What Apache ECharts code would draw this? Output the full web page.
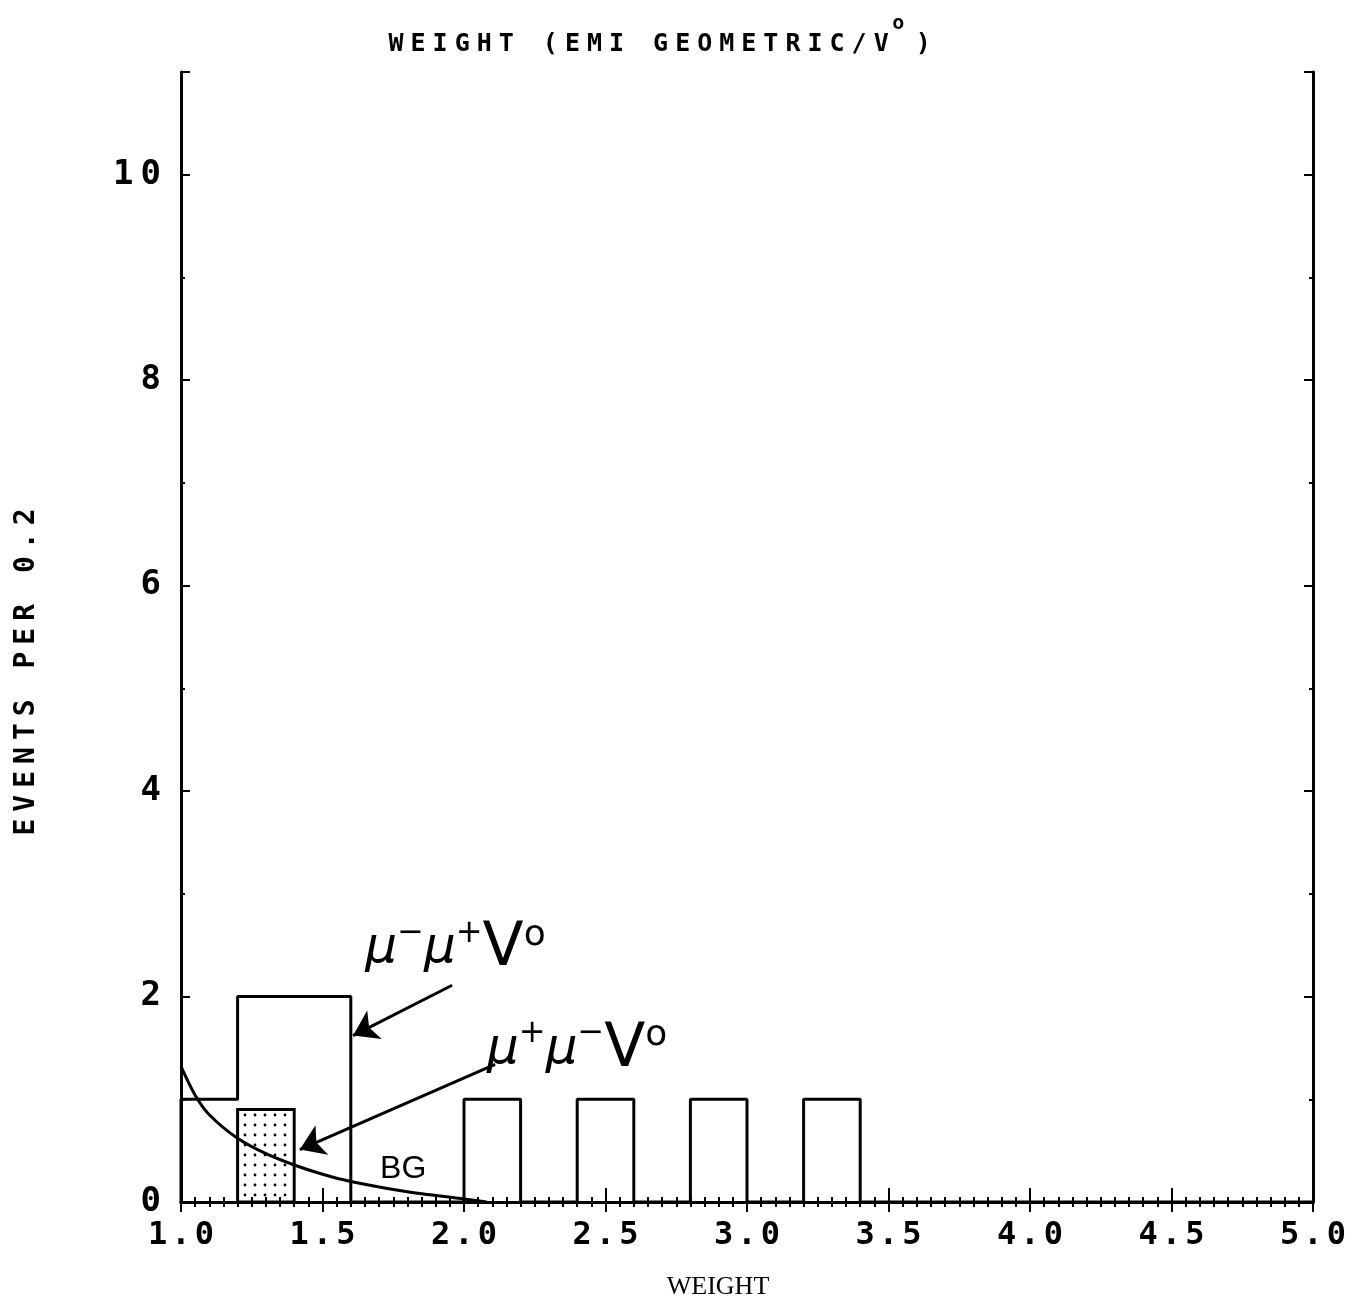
<!DOCTYPE html>
<html>
<head>
<meta charset="utf-8">
<script src="https://cdn.jsdelivr.net/npm/echarts@6/dist/echarts.min.js"></script>
<style>
html, body { margin: 0; padding: 0; background: #fff; }
#chart { width: 1356px; height: 1305px; }
</style>
</head>
<body>
<div id="chart"></div>
<script>
// histogram bins, width 0.2
const binWidth = 0.2;
const binStarts = [1.0, 1.2, 1.4, 1.6, 1.8, 2.0, 2.2, 2.4, 2.6, 2.8, 3.0, 3.2, 3.4, 3.6, 3.8, 4.0, 4.2, 4.4, 4.6, 4.8];
const allCounts = [1, 2, 2, 0, 0, 1, 0, 1, 0, 1, 0, 1, 0, 0, 0, 0, 0, 0, 0, 0];

// dotted part (mu+ mu- V0)
const shadedStarts = [1.2];
const shadedCounts = [0.9];

// background curve
const bgX = [1.0, 1.05, 1.1, 1.2, 1.3, 1.4, 1.5, 1.6, 1.8, 2.0, 2.08];
const bgY = [1.32, 1.04, 0.85, 0.62, 0.47, 0.36, 0.27, 0.2, 0.1, 0.03, 0];

// annotation arrows [from, to] in data units
const arrows = [
    [[1.958, 2.11], [1.608, 1.62]],
    [[2.11, 1.34], [1.42, 0.51]]
];

const titleText = "WEIGHT (EMI GEOMETRIC/V";
const yName = "EVENTS PER 0.2";

const spaced = (s, tag) => s.split("").map(ch => `{${tag}|${ch}}`).join("");

const makeDots = () => {
    const c = document.createElement("canvas");
    c.width = 10;
    c.height = 10;
    const ctx = c.getContext("2d");
    ctx.fillStyle = "#000";
    ctx.beginPath();
    ctx.arc(5, 5, 1.4, 0, Math.PI * 2);
    ctx.fill();
    return c;
};

const stepData = [[binStarts[0], 0]]
    .concat(binStarts.map((s, i) => [s, allCounts[i]]))
    .concat([[5.0, 0]]);

const monoBold = { fontFamily: "DejaVu Sans Mono", fontWeight: "bold", color: "#000" };

const xLabel = v => {
    const s = v.toFixed(1);
    return `{d|${s[0]}}{p|.}{d|${s[2]}}`;
};

const yLabel = v => {
    if (v % 2 !== 0) return "";
    const s = String(v);
    return s.length > 1 ? `{g|${s[0]}}{d|${s[1]}}` : `{d|${s}}`;
};

const muRich = {
    mu: { fontFamily: "DejaVu Sans", fontStyle: "italic", fontSize: 50, lineHeight: 64, color: "#000" },
    sup: { fontFamily: "DejaVu Sans", fontSize: 32, lineHeight: 30, verticalAlign: "top", color: "#000" },
    v: { fontFamily: "DejaVu Sans", fontSize: 60, lineHeight: 64, color: "#000" },
    o: { fontFamily: "DejaVu Sans", fontSize: 36, lineHeight: 20, verticalAlign: "top", color: "#000" }
};

const axisBase = {
    type: "value",
    axisLine: { show: true, lineStyle: { color: "#000", width: 3 } },
    splitLine: { show: false },
    minorSplitLine: { show: false }
};

const myChart = echarts.init(document.getElementById("chart"));

const option = {
    backgroundColor: "#fff",
    animation: false,
    title: {
        left: 385,
        top: 14,
        padding: 0,
        text: spaced(titleText, "c") + "{s|o}{c|)}",
        textStyle: {
            rich: {
                c: Object.assign({ fontSize: 25, lineHeight: 60, padding: [0, 3.5, 0, 3.5] }, monoBold),
                s: Object.assign({ fontSize: 20, lineHeight: 14, verticalAlign: "top", padding: [0, 8, 0, 0] }, monoBold)
            }
        }
    },
    grid: { left: 181, right: 43, top: 72, bottom: 97 },
    xAxis: [
        Object.assign({}, axisBase, {
            min: 1, max: 5, interval: 0.5,
            position: "bottom",
            axisTick: { inside: true, length: 14, lineStyle: { color: "#000", width: 2 } },
            minorTick: { show: true, splitNumber: 10, length: 5, lineStyle: { color: "#000", width: 2 } },
            axisLabel: {
                margin: 18,
                formatter: xLabel,
                rich: {
                    d: Object.assign({ fontSize: 32 }, monoBold),
                    p: Object.assign({ fontSize: 32, padding: [0, 4, 0, 4] }, monoBold)
                }
            },
            name: "WEIGHT",
            nameLocation: "middle",
            nameGap: 72,
            nameTextStyle: { fontFamily: "Liberation Serif", fontSize: 26, color: "#000", padding: [0, 58, 0, 0] }
        }),
        Object.assign({}, axisBase, {
            min: 1, max: 5, interval: 0.5,
            position: "top",
            axisTick: { inside: true, length: 10, lineStyle: { color: "#000", width: 2 } },
            minorTick: { show: true, splitNumber: 10, length: 5, lineStyle: { color: "#000", width: 2 } },
            axisLabel: { show: false }
        })
    ],
    yAxis: [
        Object.assign({}, axisBase, {
            min: 0, max: 11, interval: 2,
            position: "left",
            axisTick: { inside: true, length: 9, lineStyle: { color: "#000", width: 2 } },
            minorTick: { show: true, splitNumber: 2, length: 4, lineStyle: { color: "#000", width: 2 } },
            axisLabel: {
                margin: 20,
                formatter: yLabel,
                rich: {
                    d: Object.assign({ fontSize: 34 }, monoBold),
                    g: Object.assign({ fontSize: 34, padding: [0, 7, 0, 0] }, monoBold)
                }
            },
            name: spaced(yName, "c"),
            nameLocation: "middle",
            nameGap: 140,
            nameTextStyle: {
                padding: [0, 70, 0, 0],
                rich: {
                    c: Object.assign({ fontSize: 28, padding: [0, 3.5, 0, 3.5] }, monoBold)
                }
            }
        }),
        Object.assign({}, axisBase, {
            min: 0, max: 11, interval: 2,
            position: "right",
            axisTick: { inside: true, length: 9, lineStyle: { color: "#000", width: 2 } },
            minorTick: { show: true, splitNumber: 2, length: 4, lineStyle: { color: "#000", width: 2 } },
            axisLabel: { show: false }
        })
    ],
    series: [
        {
            name: "shaded",
            type: "custom",
            xAxisIndex: 0,
            yAxisIndex: 0,
            data: shadedStarts.map((s, i) => [s, s + binWidth, shadedCounts[i]]),
            renderItem: (params, api) => {
                const p0 = api.coord([api.value(0), api.value(2)]);
                const p1 = api.coord([api.value(1), 0]);
                return {
                    type: "rect",
                    shape: { x: p0[0], y: p0[1], width: p1[0] - p0[0], height: p1[1] - p0[1] },
                    style: { fill: { image: makeDots(), repeat: "repeat" }, stroke: "#000", lineWidth: 3 }
                };
            },
            z: 2
        },
        {
            name: "all",
            type: "line",
            step: "end",
            xAxisIndex: 0,
            yAxisIndex: 0,
            data: stepData,
            symbol: "none",
            lineStyle: { color: "#000", width: 3 },
            z: 3
        },
        {
            name: "BG",
            type: "line",
            xAxisIndex: 0,
            yAxisIndex: 0,
            data: bgX.map((x, i) => [x, bgY[i]]),
            smooth: 0.3,
            symbol: "none",
            lineStyle: { color: "#000", width: 3 },
            z: 4,
            markLine: {
                silent: true,
                symbol: ["none", "arrow"],
                symbolSize: 24,
                label: { show: false },
                lineStyle: { color: "#000", width: 3, type: "solid" },
                data: arrows.map(a => [{ coord: a[0] }, { coord: a[1] }])
            },
            markPoint: {
                silent: true,
                symbol: "circle",
                symbolSize: 0,
                data: [
                    {
                        coord: [1.97, 2.46],
                        label: {
                            show: true,
                            position: "inside",
                            formatter: "{mu|μ}{sup|−}{mu|μ}{sup|+}{v|V}{o|o}",
                            rich: muRich
                        }
                    },
                    {
                        coord: [2.4, 1.48],
                        label: {
                            show: true,
                            position: "inside",
                            formatter: "{mu|μ}{sup|+}{mu|μ}{sup|−}{v|V}{o|o}",
                            rich: muRich
                        }
                    },
                    {
                        coord: [1.785, 0.32],
                        label: {
                            show: true,
                            position: "inside",
                            formatter: "BG",
                            fontFamily: "Liberation Sans",
                            fontSize: 32,
                            color: "#000"
                        }
                    }
                ]
            }
        }
    ]
};

myChart.setOption(option);
</script>
</body>
</html>
